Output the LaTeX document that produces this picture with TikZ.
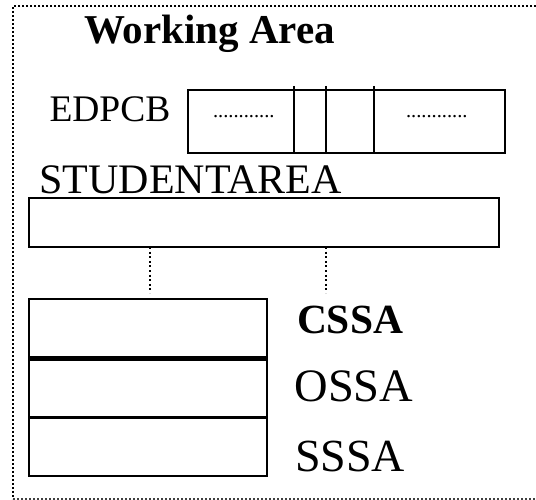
\documentclass[tikz,border=0pt]{standalone}
\usepackage{fontspec}
\setmainfont{Liberation Serif}
\begin{document}
\begin{tikzpicture}[x=1pt,y=-1pt,
  boxline/.style={draw=black,line width=2.4pt,inner sep=0pt,outer sep=0pt},
  lbl/.style={inner sep=0pt,outer sep=0pt,anchor=base west},
  frame/.style={line width=1.9pt,dash pattern=on 1.9pt off 2.1pt},
  link/.style={line width=2pt,dash pattern=on 2pt off 2.6pt}]
\useasboundingbox (0,0) rectangle (536,500);
% outer dotted frame (open on the right)
\coordinate (ftr) at (536,6);
\coordinate (ftl) at (13,6);
\coordinate (fbl) at (13,499);
\coordinate (fbr) at (536,499);
\draw[frame] (ftr) -- (ftl) -- (fbl);
\draw[frame,draw=black!75] (fbl) -- (fbr);
% title
\node[lbl,font={\fontsize{41}{41}\selectfont\bfseries}] (title) at (84,44) {Working Area};
% EDPCB
\node[lbl,font={\fontsize{37.5}{37.5}\selectfont}] (edplbl) at (49.5,122) {EDPCB};
\node[boxline,anchor=north west,minimum width=317pt,minimum height=63pt] (edp) at (188,90) {};
\coordinate (d1t) at (294,86); \coordinate (d1b) at (294,153);
\coordinate (d2t) at (326,86); \coordinate (d2b) at (326,153);
\coordinate (d3t) at (374,86); \coordinate (d3b) at (374,153);
\draw[line width=2.2pt] (d1t) -- (d1b);
\draw[line width=2.2pt] (d2t) -- (d2b);
\draw[line width=2.2pt] (d3t) -- (d3b);
\node[lbl,font={\fontsize{20.5}{20.5}\selectfont}] (dotsl) at (213,118) {............};
\node[lbl,font={\fontsize{20.5}{20.5}\selectfont}] (dotsr) at (406,118) {............};
% STUDENTAREA
\node[lbl,font={\fontsize{42}{42}\selectfont}] (salbl) at (39.5,194) {STUDENTAREA};
\node[boxline,anchor=north west,minimum width=470pt,minimum height=49pt] (sa) at (29,198) {};
% stack
\node[boxline,anchor=north west,minimum width=238pt,minimum height=58pt] (cssa) at (29,299) {};
\node[boxline,anchor=north west,minimum width=238pt,minimum height=57.5pt] (ossa) at (29,359.5) {};
\node[boxline,anchor=north west,minimum width=238pt,minimum height=58.5pt] (sssa) at (29,417.5) {};
\node[lbl,font={\fontsize{41.5}{41.5}\selectfont\bfseries}] (cssalbl) at (297,333) {CSSA};
\node[lbl,font={\fontsize{46.5}{46.5}\selectfont}] (ossalbl) at (294.5,401) {OSSA};
\node[lbl,font={\fontsize{46}{46}\selectfont}] (sssalbl) at (295,471) {SSSA};
% dotted links
\coordinate (l2b) at (326,293);
\draw[link] ([xshift=121pt]sa.south west) -- ([xshift=121pt,yshift=6pt]cssa.north west);
\draw[link] (sa.south west -| l2b) -- (l2b);
\end{tikzpicture}
\end{document}
